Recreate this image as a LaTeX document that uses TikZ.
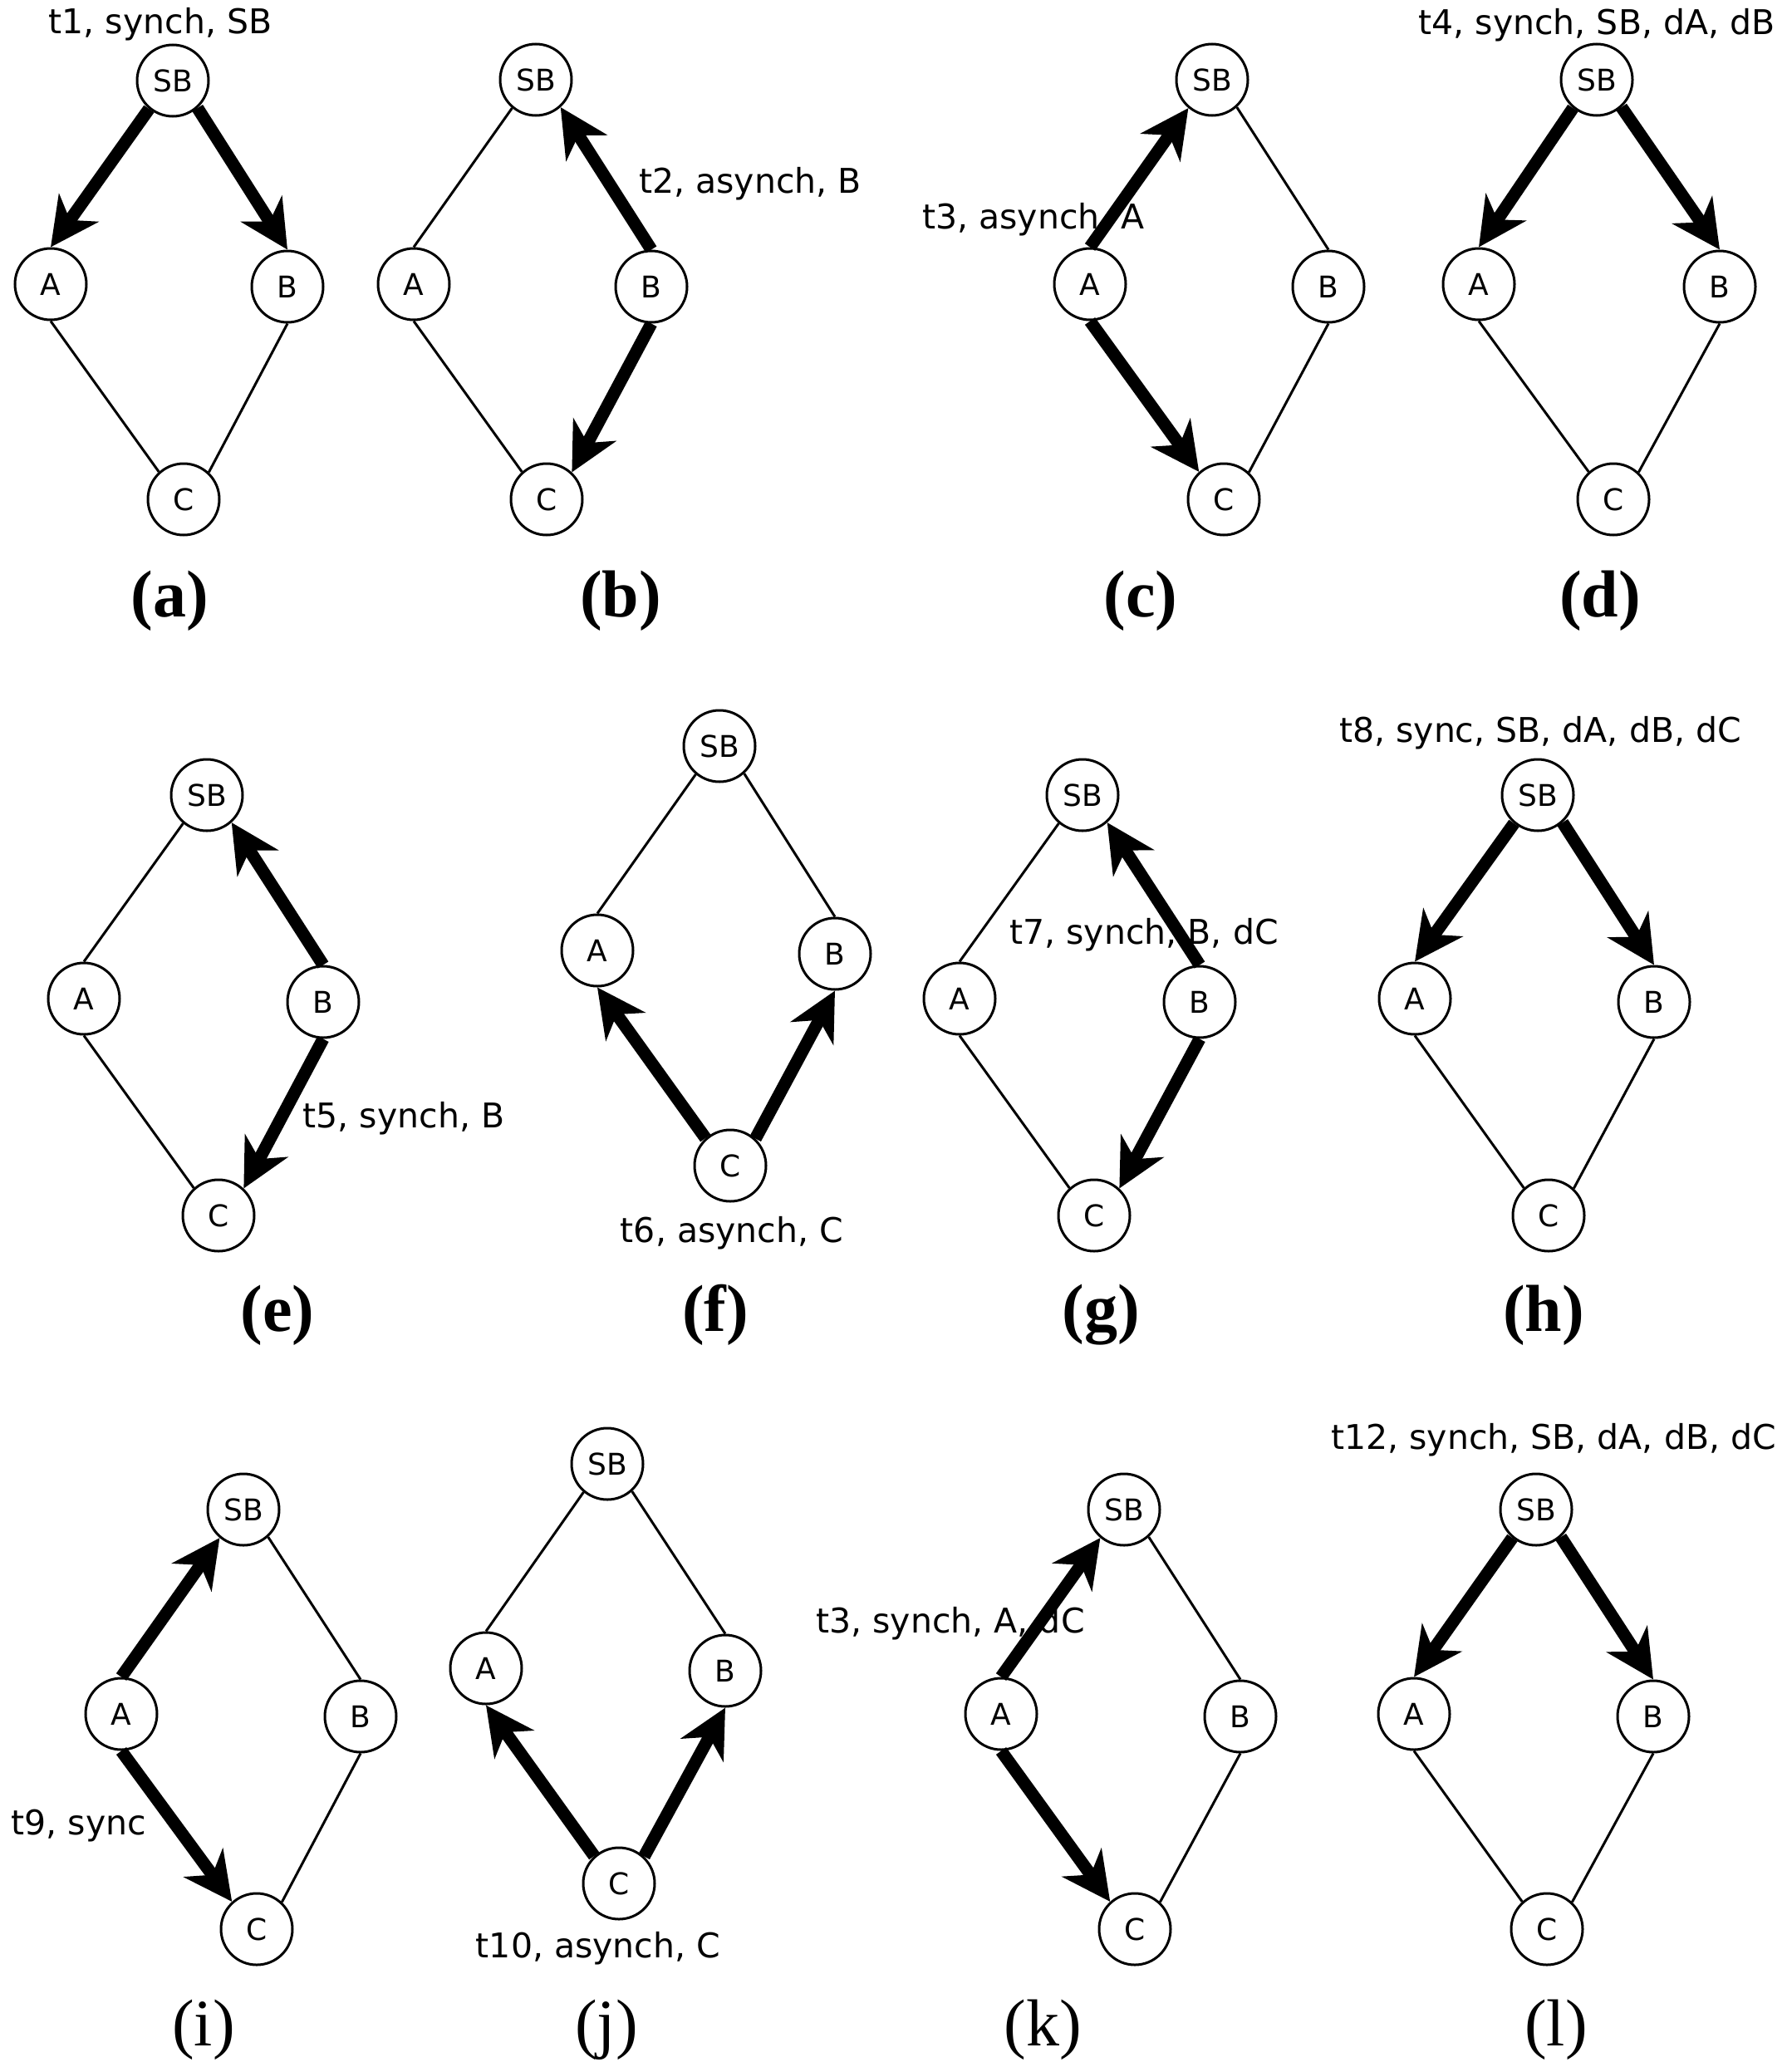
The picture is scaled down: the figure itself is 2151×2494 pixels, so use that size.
\documentclass[tikz,border=0pt]{standalone}
\usepackage{fontspec}
\usetikzlibrary{arrows.meta}
\newfontfamily\lblfont{DejaVu Sans}
\newfontfamily\capfont{Liberation Serif}
\tikzset{
  gnode/.style={circle, draw, line width=1.5pt, minimum size=43pt, inner sep=0pt,
    font=\lblfont\fontsize{18}{21}\selectfont},
  plainedge/.style={line width=1.5pt},
  boldarrow/.style={line width=7.5pt, -{Stealth[length=29pt, width=29pt, inset=9pt]}},
  steplabel/.style={font=\lblfont\fontsize{20.5}{24}\selectfont, inner sep=0pt},
  capbold/.style={font=\capfont\bfseries\fontsize{40}{46}\selectfont, inner sep=0pt},
  capreg/.style={font=\capfont\fontsize{40}{46}\selectfont, inner sep=0pt}
}
\newcommand{\graphnodes}[5]{%
  \node[gnode] (#1SB) at (#2) {SB};
  \node[gnode] (#1A) at (#3) {A};
  \node[gnode] (#1B) at (#4) {B};
  \node[gnode] (#1C) at (#5) {C};}
\newcommand{\edgesSB}[1]{%
  \draw[boldarrow] (#1SB.230) -- (#1A.north);
  \draw[boldarrow] (#1SB.312) -- (#1B.north);
  \draw[plainedge] (#1A.south) -- (#1C.132);
  \draw[plainedge] (#1B.south) -- (#1C.47);}
\newcommand{\edgesB}[1]{%
  \draw[plainedge] (#1SB.230) -- (#1A.north);
  \draw[boldarrow] (#1B.north) -- (#1SB.312);
  \draw[plainedge] (#1A.south) -- (#1C.132);
  \draw[boldarrow] (#1B.south) -- (#1C.47);}
\newcommand{\edgesA}[1]{%
  \draw[boldarrow] (#1A.north) -- (#1SB.230);
  \draw[plainedge] (#1SB.312) -- (#1B.north);
  \draw[boldarrow] (#1A.south) -- (#1C.132);
  \draw[plainedge] (#1B.south) -- (#1C.47);}
\newcommand{\edgesC}[1]{%
  \draw[plainedge] (#1SB.230) -- (#1A.north);
  \draw[plainedge] (#1SB.312) -- (#1B.north);
  \draw[boldarrow] (#1C.132) -- (#1A.south);
  \draw[boldarrow] (#1C.47) -- (#1B.south);}
\begin{document}
\begin{tikzpicture}[x=0.5pt, y=-0.5pt]
\useasboundingbox (0,0) rectangle (2151,2494);
% labels (drawn first so arrows lie over them)
\node[steplabel] (la) at (193,29) {t1, synch, SB};
\node[steplabel] (lb) at (903,221) {t2, asynch, B};
\node[steplabel] (lc) at (1244,264) {t3, asynch, A};
\node[steplabel] (ld) at (1922,30) {t4, synch, SB, dA, dB};
\node[steplabel] (le) at (486,1346) {t5, synch, B};
\node[steplabel] (lf) at (881,1484) {t6, asynch, C};
\node[steplabel] (lg) at (1377,1125) {t7, synch, B, dC};
\node[steplabel] (lh) at (1854,882) {t8, sync, SB, dA, dB, dC};
\node[steplabel] (li) at (95,2198) {t9, sync};
\node[steplabel] (lj) at (720,2345) {t10, asynch, C};
\node[steplabel] (lk) at (1144,1954) {t3, synch, A, dC};
\node[steplabel] (ll) at (1870,1733) {t12, synch, SB, dA, dB, dC};
% graphs
\graphnodes{a}{208,97}{61,342}{346,345}{221,601}
\graphnodes{b}{645,96}{498,342}{784,345}{658,601}
\graphnodes{c}{1459,96}{1312,342}{1599,345}{1473,601}
\graphnodes{d}{1922,96}{1780,342}{2070,345}{1942,601}
\graphnodes{e}{249,957}{101,1202}{389,1206}{263,1463}
\graphnodes{f}{866,898}{719,1144}{1005,1148}{879,1403}
\graphnodes{g}{1303,957}{1155,1202}{1444,1206}{1317,1463}
\graphnodes{h}{1851,957}{1703,1202}{1991,1206}{1864,1463}
\graphnodes{i}{293,1817}{146,2063}{434,2066}{309,2322}
\graphnodes{j}{731,1762}{585,2008}{873,2011}{745,2267}
\graphnodes{k}{1353,1817}{1205,2063}{1493,2066}{1366,2322}
\graphnodes{l}{1849,1817}{1702,2063}{1990,2066}{1862,2322}
\edgesSB{a}
\edgesB{b}
\edgesA{c}
\edgesSB{d}
\edgesB{e}
\edgesC{f}
\edgesB{g}
\edgesSB{h}
\edgesA{i}
\edgesC{j}
\edgesA{k}
\edgesSB{l}
% captions
\node[capbold] (ca) at (204,723) {(a)};
\node[capbold] (cb) at (747,723) {(b)};
\node[capbold] (cc) at (1373,723) {(c)};
\node[capbold] (cd) at (1926,723) {(d)};
\node[capbold] (ce) at (334,1583) {(e)};
\node[capbold] (cf) at (861,1583) {(f)};
\node[capbold] (cg) at (1325,1583) {(g)};
\node[capbold] (ch) at (1858,1583) {(h)};
\node[capreg] (ci) at (245,2443) {(i)};
\node[capreg] (cj) at (730,2443) {(j)};
\node[capreg] (ck) at (1255,2443) {(k)};
\node[capreg] (cl) at (1873,2443) {(l)};
\end{tikzpicture}
\end{document}
